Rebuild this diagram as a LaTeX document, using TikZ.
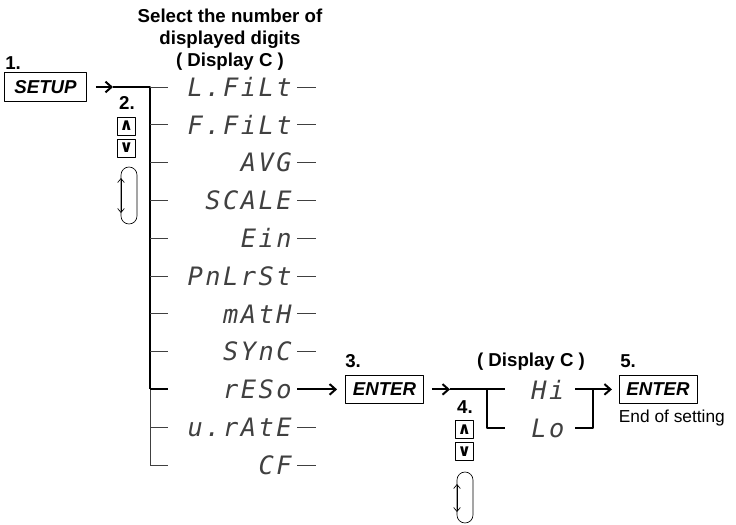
\documentclass[tikz,border=0pt]{standalone}
\usepackage{fontspec}
\setmainfont{Liberation Sans}
\newfontfamily\segfont[LetterSpace=10]{DejaVu Sans Mono}
\newfontfamily\keyfont{DejaVu Sans}
\usetikzlibrary{arrows.meta}

\tikzset{
  keybox/.style={draw, line width=0.6pt, inner sep=0pt, minimum height=21.5pt,
    font=\fontsize{14}{16}\selectfont\bfseries\itshape},
  stepno/.style={font=\fontsize{14}{16}\selectfont\bfseries, inner sep=0pt},
  seg/.style={font=\fontsize{19}{20}\selectfont\segfont\itshape, text=black!75, inner sep=0pt},
  btn/.style={draw, line width=0.5pt, minimum size=13.5pt, inner sep=0pt,
    font=\fontsize{12.5}{12.5}\selectfont\keyfont\bfseries},
  thinline/.style={line width=0.5pt, black!75},
  boldline/.style={line width=1.5pt},
  arr/.style={boldline, -{Straight Barb[length=4.5pt, width=8pt]}}
}

\begin{document}
\begin{tikzpicture}[x=0.75pt, y=-0.75pt, line join=round, line cap=butt]
	\useasboundingbox (0,0) rectangle (736,525);
	% step 1
	\node[stepno, anchor=west] (s1) at (5,63) {1.};
	\node[keybox, minimum width=61pt] (setup) at (45.5,87) {SETUP};
	\node[font=\fontsize{14}{16.6}\selectfont\bfseries, align=center] (head) at (230,39.5)
		{Select the number of\\displayed digits\\( Display C )};
	\coordinate (a1) at (113,87);
	\coordinate (top) at (150,87);
	\coordinate (bend) at (150,389.4);
	\coordinate (bot) at (150,465);
	\draw[arr] ([xshift=7pt]setup.east) -- (a1);
	\draw[boldline] (a1) -- (top) -- (bend);
	\draw[thinline] (bend) -- (bot);
	% step 2
	\node[stepno] (s2) at (127,103) {2.};
	\node[btn] (up1) at (126.5,126) {∧};
	\node[btn] (dn1) at (126.5,148) {∨};
	\draw[line width=0.5pt, rounded corners=6pt] (121,195) -- (121,167) -- (137,167) -- (137,224) -- (121,224) -- cycle;
	\draw[line width=0.5pt, {Straight Barb[length=3pt, width=5pt]}-{Straight Barb[length=3pt, width=5pt]}] (121,178) -- (121,213);
	% menu items
	\foreach \txt [count=\i] in {L.FiLt, F.FiLt, AVG, SCALE, Ein, PnLrSt, mAtH, SYnC, rESo, u.rAtE, CF} {
		\node[seg, anchor=east] (m\i) at (292,{87+37.8*(\i-1)}) {\txt};
		\coordinate (t\i) at (150,{87+37.8*(\i-1)});
		\ifnum\i=9
			\draw[boldline] (t\i) -- ++(18,0);
		\else
			\draw[thinline] (t\i) -- ++(18,0);
			\draw[thinline] (297,{87+37.8*(\i-1)}) -- ++(19,0);
		\fi
	}
	% step 3
	\node[stepno, anchor=west] (s3) at (345,361) {3.};
	\node[keybox, minimum width=58.5pt] (enter1) at (384.5,389.4) {ENTER};
	\draw[arr] (297,389.4) -- ([xshift=-6pt]enter1.west);
	\node[font=\fontsize{14}{16}\selectfont\bfseries] (head2) at (531,362) {( Display C )};
	\node[seg] (hi) at (548,389.4) {Hi};
	\node[seg] (lo) at (548,428) {Lo};
	\coordinate (a2) at (450,389.4);
	\coordinate (b2) at (487,389.4);
	\coordinate (c2) at (487,428);
	\draw[arr] ([xshift=6pt]enter1.east) -- (a2);
	\draw[boldline] (a2) -- (505,389.4);
	\draw[boldline] (b2) -- (c2) -- (505,428);
	% step 4
	\node[stepno] (s4) at (465,407) {4.};
	\node[btn] (up2) at (464.5,429.5) {∧};
	\node[btn] (dn2) at (464.5,451.5) {∨};
	\draw[line width=0.5pt, rounded corners=6pt] (457,500) -- (457,472) -- (473,472) -- (473,523) -- (457,523) -- cycle;
	\draw[line width=0.5pt, {Straight Barb[length=3pt, width=5pt]}-{Straight Barb[length=3pt, width=5pt]}] (457,484) -- (457,512);
	% step 5
	\node[stepno, anchor=west] (s5) at (620,361) {5.};
	\node[keybox, minimum width=58.5pt] (enter2) at (658,389.4) {ENTER};
	\node[anchor=north west, font=\fontsize{13}{15}\selectfont, inner sep=0pt] (end) at ([yshift=-4pt]enter2.south west) {End of setting};
	\coordinate (d2) at (593,389.4);
	\coordinate (e2) at (593,428);
	\draw[arr] (575,389.4) -- ([xshift=-5pt]enter2.west);
	\draw[boldline] (d2) -- (e2) -- (575,428);
\end{tikzpicture}
\end{document}
